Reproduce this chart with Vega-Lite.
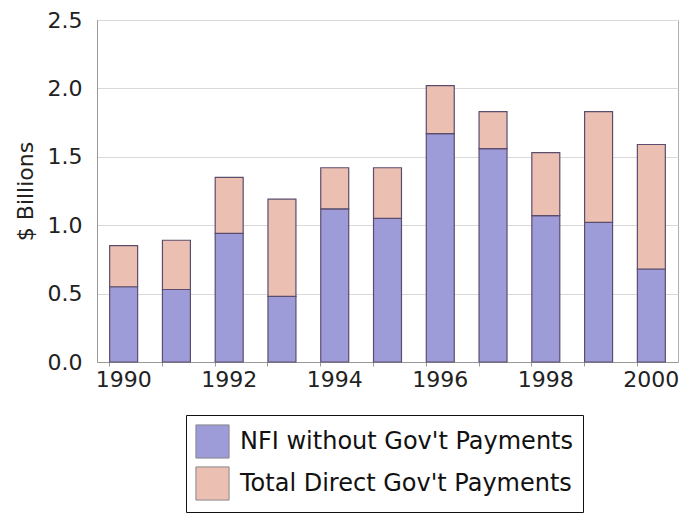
{
  "$schema": "https://vega.github.io/schema/vega-lite/v6.json",
  "width": 581,
  "height": 342,
  "autosize": "none",
  "padding": {"left": 97, "top": 20, "right": 5, "bottom": 151},
  "background": "white",
  "config": {
    "font": "DejaVu Sans",
    "view": {"stroke": "#b0b0b0", "strokeWidth": 1},
    "legend": {"strokeColor": "#111", "fillColor": "white"}
  },
  "data": {
    "values": [
      {"year": "1990", "series": "NFI without Gov't Payments", "order": 1, "value": 0.55},
      {"year": "1990", "series": "Total Direct Gov't Payments", "order": 2, "value": 0.30},
      {"year": "1991", "series": "NFI without Gov't Payments", "order": 1, "value": 0.53},
      {"year": "1991", "series": "Total Direct Gov't Payments", "order": 2, "value": 0.36},
      {"year": "1992", "series": "NFI without Gov't Payments", "order": 1, "value": 0.94},
      {"year": "1992", "series": "Total Direct Gov't Payments", "order": 2, "value": 0.41},
      {"year": "1993", "series": "NFI without Gov't Payments", "order": 1, "value": 0.48},
      {"year": "1993", "series": "Total Direct Gov't Payments", "order": 2, "value": 0.71},
      {"year": "1994", "series": "NFI without Gov't Payments", "order": 1, "value": 1.12},
      {"year": "1994", "series": "Total Direct Gov't Payments", "order": 2, "value": 0.30},
      {"year": "1995", "series": "NFI without Gov't Payments", "order": 1, "value": 1.05},
      {"year": "1995", "series": "Total Direct Gov't Payments", "order": 2, "value": 0.37},
      {"year": "1996", "series": "NFI without Gov't Payments", "order": 1, "value": 1.67},
      {"year": "1996", "series": "Total Direct Gov't Payments", "order": 2, "value": 0.35},
      {"year": "1997", "series": "NFI without Gov't Payments", "order": 1, "value": 1.56},
      {"year": "1997", "series": "Total Direct Gov't Payments", "order": 2, "value": 0.27},
      {"year": "1998", "series": "NFI without Gov't Payments", "order": 1, "value": 1.07},
      {"year": "1998", "series": "Total Direct Gov't Payments", "order": 2, "value": 0.46},
      {"year": "1999", "series": "NFI without Gov't Payments", "order": 1, "value": 1.02},
      {"year": "1999", "series": "Total Direct Gov't Payments", "order": 2, "value": 0.81},
      {"year": "2000", "series": "NFI without Gov't Payments", "order": 1, "value": 0.68},
      {"year": "2000", "series": "Total Direct Gov't Payments", "order": 2, "value": 0.91}
    ]
  },
  "mark": {"type": "bar", "stroke": "#5b4d6e", "strokeWidth": 1.2},
  "encoding": {
    "x": {
      "field": "year",
      "type": "ordinal",
      "scale": {"paddingInner": 0.47, "paddingOuter": 0.24},
      "axis": {
        "title": null,
        "labelAngle": 0,
        "labelFontSize": 22,
        "labelColor": "#222",
        "labelExpr": "toNumber(datum.value) % 2 == 0 ? datum.label : ''",
        "bandPosition": 0,
        "tickSize": 4,
        "tickColor": "#999",
        "domainColor": "#999",
        "labelPadding": 3,
        "grid": false
      }
    },
    "y": {
      "field": "value",
      "type": "quantitative",
      "stack": "zero",
      "scale": {"domain": [0, 2.5]},
      "axis": {
        "title": "$ Billions",
        "titleFontSize": 22,
        "titleFontWeight": "normal",
        "titleColor": "#222",
        "titlePadding": 10,
        "values": [0, 0.5, 1, 1.5, 2, 2.5],
        "format": ".1f",
        "labelFontSize": 22,
        "labelColor": "#222",
        "labelPadding": 15,
        "tickSize": 0,
        "domainColor": "#999",
        "gridColor": "#d9d9d9"
      }
    },
    "color": {
      "field": "series",
      "type": "nominal",
      "scale": {
        "domain": ["NFI without Gov't Payments", "Total Direct Gov't Payments"],
        "range": ["#9e9cd8", "#ebbfb2"]
      },
      "legend": {
        "title": null,
        "orient": "none",
        "legendX": 89,
        "legendY": 395,
        "direction": "vertical",
        "symbolType": "square",
        "symbolSize": 1100,
        "symbolStrokeColor": "#888",
        "symbolStrokeWidth": 1,
        "labelFontSize": 24,
        "labelColor": "#111",
        "labelOffset": 10,
        "rowPadding": 3,
        "padding": 9,
        "labelLimit": 400
      }
    },
    "order": {"field": "order", "type": "quantitative"}
  }
}
